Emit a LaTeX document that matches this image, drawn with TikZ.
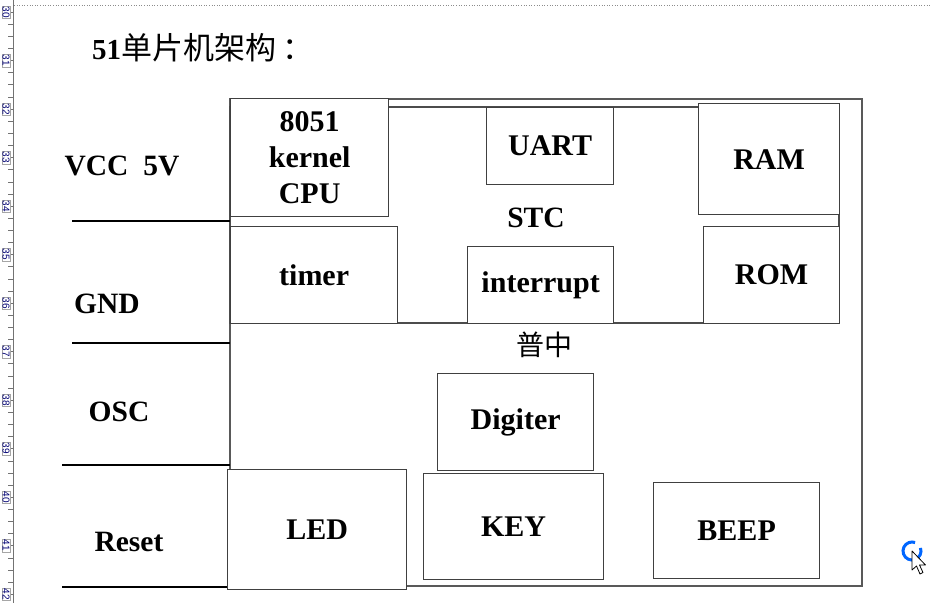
\documentclass[tikz,border=0pt]{standalone}
\usepackage{fontspec}
\setmainfont{Liberation Serif}
\newfontfamily\cjk{Noto Sans CJK SC}
\newfontfamily\rulerfont{Liberation Sans}
\begin{document}
\begin{tikzpicture}[x=1pt,y=-1pt,
  lbl/.style={font=\fontsize{29.5}{36}\selectfont\bfseries, inner sep=0pt, align=center},
  blk/.style={draw=black!75, line width=1.3pt, fill=white, anchor=north west, inner sep=0pt,
              font=\fontsize{30}{36}\selectfont\bfseries, align=center},
  frame/.style={draw=black!65, line width=1.8pt},
  sepline/.style={draw=black, line width=2.4pt},
  ruler/.style={draw=black!55, line width=0.6pt},
  rnum/.style={font=\fontsize{10}{10}\selectfont\rulerfont, text=blue!45!black, rotate=-90, inner sep=0.6pt, draw=black!35, line width=0.3pt, fill=white}
]
\useasboundingbox (0,0) rectangle (930,603);
\fill[white] (0,0) rectangle (930,603);

% ruler and page border
\draw[ruler] (13,0) -- (13,603);
\foreach \i in {0,...,49} {\draw[ruler] (8,{12+\i*12.13}) -- (13,{12+\i*12.13});}
\foreach \n [count=\k from 0] in {30,...,42} {\node[rnum] (r\n) at (6,{12+\k*48.5}) {\n};}
\draw[black!45, line width=0.6pt, dotted] (14,5) -- (930,5);

% title
\node[anchor=west, inner sep=0pt, font=\fontsize{29}{31}\selectfont] (title) at (92,48)
  {\bfseries 51{\cjk\mdseries\fontsize{31}{33}\selectfont 单片机架构\hspace{6pt}：}};

% outer frame and STC frame
\draw[frame] (230,99) rectangle (862,586);
\draw[draw=black!70, line width=1.3pt] (230,107) rectangle (839,323);

% blocks
\node[blk, minimum width=158pt, minimum height=118pt] (cpu) at (230,98) {8051\\kernel\\CPU};
\node[blk, minimum width=127pt, minimum height=77pt] (uart) at (486,107) {UART};
\node[blk, minimum width=141pt, minimum height=111pt] (ram) at (698,103) {RAM};
\node[blk, minimum width=167pt, minimum height=97pt] (timer) at (230,226) {timer};
\node[blk, minimum width=146pt, minimum height=77pt] (intr) at (467,246) {interrupt};
\node[blk, minimum width=136pt, minimum height=97pt] (rom) at (703,226) {ROM};
\node[blk, minimum width=156pt, minimum height=97pt] (dig) at (437,373) {Digiter};
\node[blk, minimum width=180pt, minimum height=106pt] (key) at (423,473) {KEY};
\node[blk, minimum width=179pt, minimum height=120pt] (led) at (227,469) {LED};
\node[blk, minimum width=166pt, minimum height=96pt] (beep) at (653,482) {BEEP};

\node[lbl] (stc) at (536,218) {STC};
\node[inner sep=0pt, font=\fontsize{28}{30}\selectfont\cjk] (puzhong) at (544,345) {普中};

% left labels and separators
\node[lbl] (vcc) at (122,166) {VCC\ \ 5V};
\node[lbl] (gnd) at (107,304) {GND};
\node[lbl] (osc) at (119,412) {OSC};
\node[lbl] (rst) at (129,542) {Reset};
\coordinate (l1a) at (72,221);  \coordinate (l1b) at (230,221);
\coordinate (l2a) at (72,343);  \coordinate (l2b) at (230,343);
\coordinate (l3a) at (62,465);  \coordinate (l3b) at (230,465);
\coordinate (l4a) at (62,587);  \coordinate (l4b) at (227,587);
\draw[sepline] (l1a) -- (l1b);
\draw[sepline] (l2a) -- (l2b);
\draw[sepline] (l3a) -- (l3b);
\draw[sepline] (l4a) -- (l4b);

% busy cursor
\draw[blue!60!cyan, line width=3pt] (912,551) ++(-20:9) arc[start angle=-20, end angle=290, radius=9];
\draw[black, fill=white, line width=0.8pt, line join=round]
  (912,551) -- (912,570) -- (916.5,566) -- (920,574) -- (923,572.5) -- (919.5,565) -- (925.5,565) -- cycle;
\end{tikzpicture}
\end{document}
